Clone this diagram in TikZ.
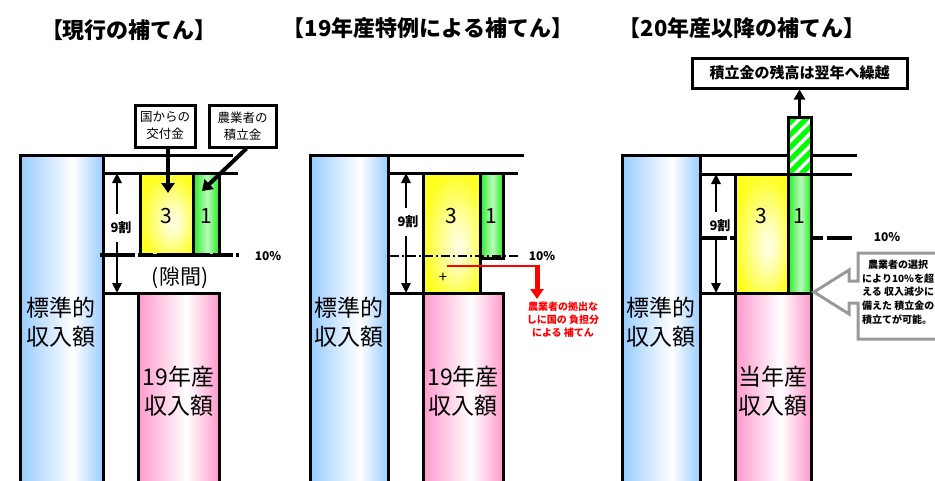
\documentclass[tikz,border=0pt]{standalone}
\usepackage{fontspec}
\setmainfont{Noto Sans CJK JP}
\usetikzlibrary{arrows.meta}
\definecolor{barblue}{HTML}{99CCFF}
\definecolor{barpink}{HTML}{FF99CC}
\definecolor{boxgreen}{HTML}{22EE22}
\definecolor{boxyellow}{HTML}{FFFF22}
\definecolor{hatchgreen}{HTML}{00FF00}
\definecolor{callgray}{HTML}{999999}
\pgfdeclarehorizontalshading{blueshade}{100bp}{color(0bp)=(barblue); color(25bp)=(barblue); color(57bp)=(white); color(75bp)=(barblue); color(100bp)=(barblue)}
\pgfdeclarehorizontalshading{pinkshade}{100bp}{color(0bp)=(barpink); color(25bp)=(barpink); color(55bp)=(white); color(75bp)=(barpink); color(100bp)=(barpink)}
\pgfdeclarehorizontalshading{greenshade}{100bp}{color(0bp)=(boxgreen); color(25bp)=(boxgreen); color(52bp)=(white!70!boxgreen); color(75bp)=(boxgreen); color(100bp)=(boxgreen)}
\pgfdeclareradialshading{yelshade}{\pgfpoint{7bp}{-6bp}}{color(0bp)=(boxyellow!10); color(8bp)=(boxyellow!30); color(28bp)=(boxyellow); color(50bp)=(boxyellow)}
\begin{document}
\begin{tikzpicture}[x=1pt,y=-1pt,
  outl/.style={draw=black,line width=3pt},
  hline/.style={line width=3pt},
  darr/.style={line width=2.5pt,{Triangle[length=10pt,width=9pt]}-{Triangle[length=10pt,width=9pt]}},
  fatarr/.style={line width=4pt,-{Triangle[length=10pt,width=13pt]}},
  lbl/.style={draw,line width=3pt,fill=white,align=center,font=\fontsize{12.5}{17}\selectfont,inner sep=1pt},
  ttl/.style={font=\bfseries\fontsize{22}{26}\selectfont},
  big/.style={align=center,font=\fontsize{23}{29}\selectfont},
  num/.style={font=\fontsize{21}{24}\selectfont},
  wari/.style={fill=white,inner sep=1pt,minimum height=28pt,font=\bfseries\fontsize{13}{15}\selectfont},
  pct/.style={font=\bfseries\fontsize{12}{14}\selectfont},
  dline/.style={line width=4pt}]
\useasboundingbox (0,0) rectangle (935,480);
\clip (0,0) rectangle (935,480);

% ---------- titles
\node[ttl] (t1) at (129,30) {【現行の補てん】};
\node[ttl] (t2) at (428,28) {【19年産特例による補てん】};
\node[ttl] (t3) at (742,28) {【20年産以降の補てん】};

% ================= LEFT PANEL =================
\shade[shading=blueshade,outl] (20,155) rectangle (103,495);
\draw[hline] (103,155) -- (233,155);
\draw[hline] (103,173) -- (238,173);
\draw[hline] (103,293) -- (138,293);
\shade[shading=yelshade,outl] (140,173) rectangle (193,255);
\shade[shading=greenshade,outl] (193,173) rectangle (219,255);
\shade[shading=pinkshade,outl] (138,293) rectangle (219,495);
\node[num] (l3) at (166.5,216) {3};
\node[num] (l1) at (206,216) {1};
\coordinate (lA) at (117,173);
\coordinate (lB) at (117,293);
\draw[darr] (lA) -- (lB);
\node[wari] (l9) at (121,228) {9割};
\draw[dline] (100,255) -- (135,255) (138,255) -- (153,255) (157,255) -- (210,255) (213,255) -- (233,255) (236,255) -- (239,255);
\node[pct] (l10) at (268,256) {10\%};
\node[font=\fontsize{21}{24}\selectfont] (lgap) at (180,278) {(隙間)};
\node[big] (lstd) at (61.5,322) {標準的\\収入額};
\node[big] (l19) at (178.5,391) {19年産\\収入額};
\node[lbl,minimum width=60pt,minimum height=42pt] (kuni) at (165,126) {国からの\\交付金};
\node[lbl,minimum width=67pt,minimum height=42pt] (nou) at (242.5,126) {農業者の\\積立金};
\coordinate (kuniTip) at (168,193);
\coordinate (nouTip) at (202,191);
\draw[fatarr] (kuni.south -| kuniTip) -- (kuniTip);
\draw[fatarr] ([xshift=4pt]nou.south) -- (nouTip);

% ================= MIDDLE PANEL =================
\shade[shading=blueshade,outl] (310,155) rectangle (388,495);
\draw[hline] (388,155) -- (524,155);
\draw[hline] (388,173) -- (518,173);
\draw[hline] (388,293) -- (423,293);
\shade[shading=yelshade,outl] (423,173) rectangle (480,293);
\shade[shading=greenshade,outl] (480,173) rectangle (503,258);
\shade[shading=pinkshade,outl] (423,293) rectangle (503,495);
\node[num] (m3) at (451.5,216) {3};
\node[num] (m1) at (491.5,216) {1};
\coordinate (mA) at (406,173);
\coordinate (mB) at (406,293);
\draw[darr] (mA) -- (mB);
\node[wari] (m9) at (408,222) {9割};
\draw[line width=2.5pt,dash pattern=on 9pt off 3pt on 2pt off 3pt] (390,256) -- (520,256);
\node[pct] (m10) at (542,256) {10\%};
\node[font=\fontsize{15}{18}\selectfont] (mplus) at (443,278) {+};
\coordinate (rs) at (447,266);
\coordinate (rc) at (537,266);
\coordinate (re) at (537,299);
\draw[red,line width=2.5pt] (rs) -- ([xshift=1.5pt]rc);
\draw[red,line width=5pt,-{Triangle[length=10pt,width=13pt]}] ([yshift=1.25pt]rc) -- (re);
\node[red,align=center,font=\bfseries\fontsize{10}{13}\selectfont] (mred) at (563,320) {農業者の拠出な\\しに国の 負担分\\による 補てん};
\node[big] (mstd) at (349,322) {標準的\\収入額};
\node[big] (m19) at (463,391) {19年産\\収入額};

% ================= RIGHT PANEL =================
\shade[shading=blueshade,outl] (622,155) rectangle (700,495);
\draw[hline] (700,155) -- (857,155);
\draw[hline] (700,174) -- (852,174);
\coordinate (rA) at (716,174);
\coordinate (rB) at (716,293);
\draw[darr] (rA) -- (rB);
\node[wari] (r9) at (720,226) {9割};
\draw[dline] (700,238) -- (727,238) (730,238) -- (735,238) (813,238) -- (823,238) (827,238) -- (852,238);
\draw[hline] (700,293) -- (735,293);
\shade[shading=yelshade,outl] (735,174) rectangle (788,293);
\shade[shading=greenshade,outl] (788,174) rectangle (811,293);
\shade[shading=pinkshade,outl] (735,293) rectangle (811,495);
\begin{scope}
  \clip (788,117) rectangle (811,174);
  \fill[white] (788,117) rectangle (811,174);
  \foreach \k in {0,...,7} \draw[line width=5pt,hatchgreen] (780,{120+\k*12.5}) -- ++(40,-40);
\end{scope}
\draw[outl] (788,117) rectangle (811,174);
\coordinate (hatchTop) at (799.5,117);
\node[draw,line width=3pt,minimum width=215pt,minimum height=30pt,inner sep=0pt,font=\bfseries\fontsize{15}{18}\selectfont] (carry) at (799.5,73) {積立金の残高は翌年へ繰越};
\draw[line width=3pt,-{Triangle[length=10pt,width=11pt]}] (hatchTop) -- (carry.south);
\node[num] (r3) at (761.5,216) {3};
\node[num] (r1) at (799.5,216) {1};
\node[pct] (r10) at (887,237) {10\%};
\node[big] (rstd) at (661,322) {標準的\\収入額};
\node[big] (rcur) at (773,391) {当年産\\収入額};
\draw[callgray,line width=3pt,fill=white] (945,253) -- (858,253) -- (858,281) -- (849,281) -- (849,270) -- (814,292) -- (849,314) -- (849,303) -- (858,303) -- (858,339) -- (945,339);
\node[anchor=north west,align=left,inner sep=0pt,font=\bfseries\fontsize{10}{13.8}\selectfont] (rnote) at (862,259.5) {\hspace{6pt}農業者の選択\\により10\%を超\\える 収入減少に\\備えた 積立金の\\積立てが可能。};
\end{tikzpicture}
\end{document}
